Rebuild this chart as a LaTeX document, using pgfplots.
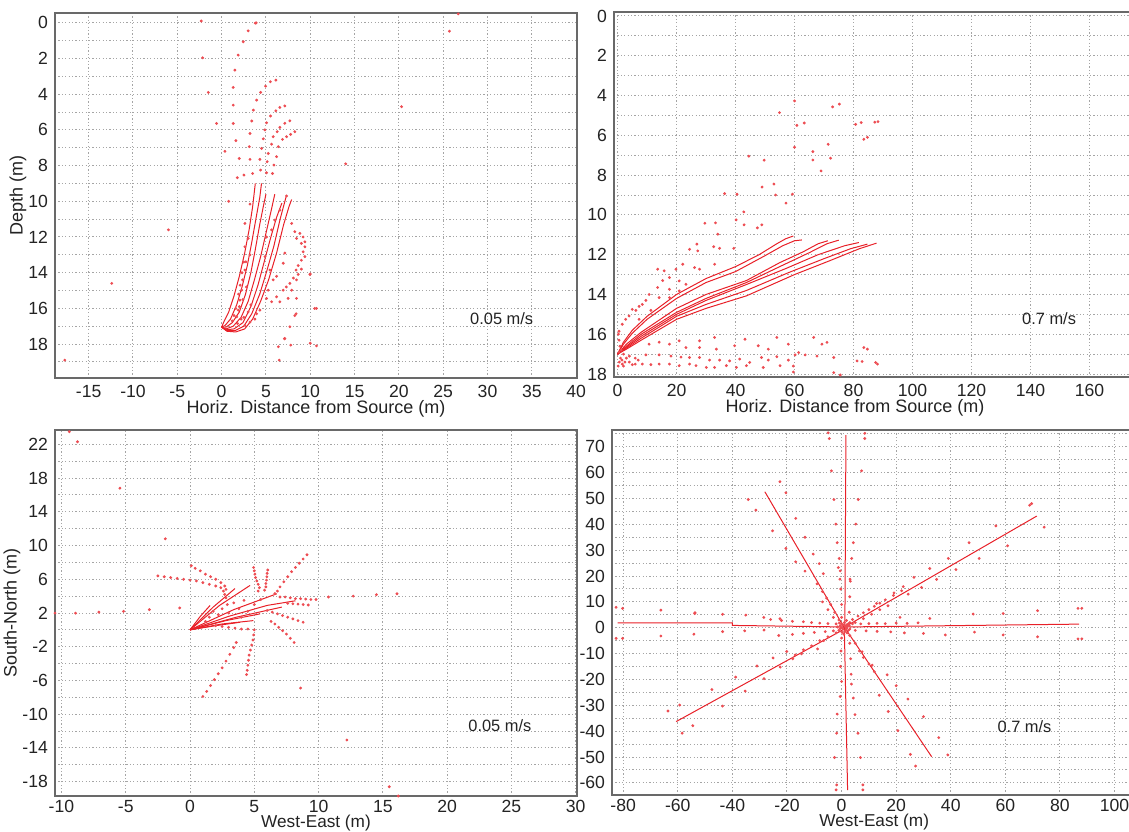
\documentclass[border=0pt]{standalone}
\usepackage{fontspec}
\setmainfont{Liberation Sans}
\usepackage{pgfplots}
\pgfplotsset{compat=1.18}
\definecolor{clrRed}{RGB}{232,32,40}
\definecolor{clrFrame}{RGB}{105,105,105}
\definecolor{clrGrid}{RGB}{165,165,165}
\definecolor{clrText}{RGB}{35,35,35}
\pgfplotsset{
  panel/.style={
    scale only axis, anchor=south west,
    axis line style={draw=clrFrame, line width=1.1pt},
    major tick length=0pt, minor tick length=0pt,
    xmajorgrids, ymajorgrids, yminorgrids,
    major grid style={clrGrid, line width=0.5pt, dash pattern=on 0.6pt off 1.1pt},
    minor grid style={clrGrid, line width=0.5pt, dash pattern=on 0.6pt off 1.1pt},
    ticklabel style={font=\fontsize{8.8}{10}\selectfont, text=clrText},
    label style={font=\fontsize{9}{10}\selectfont, text=clrText},
    /pgf/number format/assume math mode=true,
    ylabel style={inner sep=1pt, yshift=-3.5pt},
  },
  highpanel/.style={xlabel style={inner sep=0.5pt, yshift=2.5pt}},
  % bottom row: the label sits on a fixed baseline just above the page edge
  lowpanel/.style={
    xticklabel style={yshift=1.2pt},
    xlabel style={at={(axis description cs:0.5,0)}, anchor=base, inner sep=0pt,
      yshift=-15.6pt, font=\fontsize{8.6}{10}\selectfont}},
  dots/.style={only marks, color=clrRed!80, mark=*, mark size=0.5pt, mark options={fill=clrRed!80, draw=none}},
  traj/.style={no marks, color=clrRed, line width=0.5pt},
}
\newcommand{\speed}[2]{\node[font=\fontsize{8.2}{9}\selectfont, text=clrText] at (axis cs:#1) {#2};}

\begin{document}
\begin{tikzpicture}
\useasboundingbox (0,0) rectangle (564.5pt,415.5pt);

% ---------- top left: depth vs horizontal distance, 0.05 m/s
\begin{axis}[panel, highpanel, at={(27.5pt,226.5pt)}, width=261pt, height=182.5pt,
  xmin=-18.8, xmax=40.1, ymin=-0.55, ymax=19.9, y dir=reverse,
  xtick={-15,-10,...,40}, ytick={0,2,...,18}, minor ytick={1,3,...,19},
  xlabel={Horiz. Distance from Source (m)}, ylabel={Depth (m)}]
\addplot[traj] coordinates {(0,17.05) (0.3,16.7) (0.8,16.2) (1.4,15.3) (2.0,14.2) (2.6,12.9) (3.1,11.6) (3.5,10.3) (3.8,9.0)};
\addplot[traj] coordinates {(0,17.05) (0.4,16.95) (1.0,16.6) (1.7,15.8) (2.3,14.8) (2.9,13.6) (3.4,12.3) (3.9,10.9) (4.3,9.8) (4.5,9.0)};
\addplot[traj] coordinates {(0,17.05) (0.5,17.05) (1.2,16.8) (2.0,16.2) (2.7,15.2) (3.3,14.0) (3.8,12.7) (4.3,11.3) (4.7,10.3) (5.0,9.6)};
\addplot[traj] coordinates {(0,17.05) (0.5,17.15) (1.3,17.0) (2.2,16.5) (3.0,15.6) (3.7,14.4) (4.4,13.1) (5.0,11.8) (5.6,10.5) (6.0,9.6)};
\addplot[traj] coordinates {(0,17.05) (0.5,17.2) (1.4,17.15) (2.4,16.8) (3.3,15.9) (4.1,14.7) (4.8,13.4) (5.5,12.1) (6.2,10.9) (6.8,10.1)};
\addplot[traj] coordinates {(0,17.05) (0.6,17.25) (1.5,17.25) (2.5,17.0) (3.4,16.3) (4.3,15.2) (5.1,13.9) (5.9,12.5) (6.6,11.0) (7.3,9.7)};
\addplot[traj] coordinates {(0,17.05) (0.6,17.28) (1.6,17.32) (2.6,17.15) (3.5,16.6) (4.4,15.6) (5.3,14.4) (6.2,12.9) (7.0,11.3) (7.6,10.3) (7.9,9.9)};
\addplot[dots] coordinates {
(-2.3,-0.1) (3.9,0.0) (3.8,0.02) (3.0,0.45) (2.44,1.06) (1.87,1.81) (-2.14,1.96) (1.5,2.65)
(6.12,3.21) (5.5,3.3) (4.96,3.55) (-1.5,3.9) (1.31,3.62) (4.4,3.9) (3.95,4.33) (1.31,4.61)
(3.58,4.89) (7.13,4.66) (6.57,4.74) (6.12,4.93) (5.52,5.22) (7.7,5.49) (7.13,5.63) (6.57,5.86)
(6.27,6.1) (8.26,6.1) (7.78,6.25) (7.33,6.38) (6.87,6.53) (5.07,5.6) (3.4,5.5) (1.31,5.64)
(-0.57,5.64) (4.88,6.0) (3.2,6.2) (1.61,6.6) (4.7,6.5) (5.82,6.38) (5.64,6.8) (3.12,6.94)
(4.51,7.04) (6.4,6.94) (0.37,7.2) (5.26,7.32) (6.2,7.5) (1.99,7.6) (3.2,7.65) (4.32,7.65)
(5.14,7.78) (5.9,7.97) (4.4,8.25) (5.07,8.4) (5.74,8.44) (3.5,8.44) (2.52,8.53) (1.77,8.68)
(26.7,-0.5) (25.7,0.47) (20.3,4.7) (14.0,7.9) (-6.0,11.6) (-12.4,14.6) (-17.7,18.9)
(10.0,17.95) (10.7,16.0) (10.0,14.07) (7.8,18.06) (6.5,18.9) (7.1,17.7) (8.4,16.3) (0.8,10.0)
(3.2,10.16) (7.33,9.7) (7.9,11.24) (8.26,11.7) (8.83,11.8) (9.2,12.0) (9.4,12.27) (9.0,12.36)
(8.45,12.08) (9.4,12.55) (9.2,12.83) (9.4,13.1) (9.0,13.3) (8.64,13.6) (9.0,13.8) (8.4,13.85)
(8.64,14.1) (8.1,14.3) (8.45,14.4) (7.7,14.6) (7.3,14.8) (6.95,14.98) (7.9,14.98) (6.2,15.35)
(7.5,15.44) (8.45,15.44) (6.57,15.63) (5.64,15.63) (5.07,15.44) (8.26,16.4) (7.7,17.03)
(7.13,17.68) (6.4,18.15) (10.5,16.0) (10.7,18.1) (9.96,14.1) (2.63,11.24) (2.63,12.55)
(2.74,13.39) (2.63,13.85) (2.37,14.4) (2.26,14.98) (2.07,15.54) (1.88,16.1) (1.7,16.47)
(3.0,12.08) (3.2,13.0) (4.9,13.1) (5.45,13.85) (5.82,14.4) (5.26,14.98) (4.32,16.1) (3.75,16.6)
(3.2,16.77) (2.63,16.95) (3.94,16.3) (5.07,12.0) (5.64,11.6) (7.13,12.9) (6.95,13.47) (6.2,14.2)
(6.57,10.5) (6.0,11.05) (1.9,15.2) (2.1,14.7) (2.3,14.0) (2.5,13.4) (1.6,16.0) (1.4,16.4)
(1.2,16.7) (2.0,15.9) (2.4,15.5) (2.8,14.8) (3.3,15.8) (3.0,16.2) (2.2,16.6) (1.8,16.85) (2.5,16.5)};
\speed{31.6,16.56}{0.05 m/s}
\end{axis}

% ---------- top right: depth vs horizontal distance, 0.7 m/s
\begin{axis}[panel, highpanel, at={(307pt,227pt)}, width=264.3pt, height=182.5pt,
  xmin=-1.2, xmax=178, ymin=-0.2, ymax=18.15, y dir=reverse,
  xtick={0,20,...,160}, ytick={0,2,...,18}, minor ytick={1,3,...,17},
  xlabel={Horiz. Distance from Source (m)}, xlabel style={at={(ticklabel cs:0.456)}}]
\addplot[traj] coordinates {(0,17.0) (2,16.4) (5,15.8) (10,15.1) (20,14.0) (30,13.2) (40,12.6) (48,12.0) (54,11.45) (57,11.2) (59.6,11.06)};
\addplot[traj] coordinates {(0,17.0) (2,16.5) (5,15.95) (10,15.25) (20,14.2) (30,13.4) (40,12.85) (50,12.05) (56,11.55) (60,11.3) (62.5,11.26)};
\addplot[traj] coordinates {(0,17.0) (3,16.5) (8,15.9) (20,14.7) (30,14.0) (43.7,13.3) (55,12.4) (63,11.85) (68,11.45) (71.3,11.3)};
\addplot[traj] coordinates {(0,17.0) (3,16.6) (8,16.0) (20,14.9) (30,14.2) (43.7,13.4) (55,12.6) (65,11.9) (71,11.45) (75,11.27)};
\addplot[traj] coordinates {(0,17.0) (3,16.65) (8,16.1) (20,15.0) (30,14.3) (43.7,13.5) (57,12.7) (68,12.0) (77,11.55) (81.8,11.39)};
\addplot[traj] coordinates {(0,17.0) (3,16.7) (8,16.2) (20,15.1) (30,14.5) (43.7,13.8) (58,12.9) (70,12.2) (79,11.7) (84.7,11.47)};
\addplot[traj] coordinates {(0,17.0) (3,16.75) (8,16.3) (20,15.25) (30,14.7) (43.7,14.07) (60,13.0) (72,12.3) (82,11.7) (87.8,11.42)};
\addplot[dots] coordinates {
(60.0,4.27) (54.9,4.86) (72.9,4.57) (75.2,4.43) (60.8,5.5) (63.3,5.38) (80.7,5.45) (82.6,5.36)
(87.2,5.34) (88.3,5.31) (83.5,6.2) (84.7,6.1) (60.0,6.6) (71.4,6.45) (66.2,6.82) (66.2,7.24)
(72.2,7.15) (69.0,7.79) (44.5,7.05) (49.7,7.25) (49.0,8.6) (53.0,8.45) (53.6,9.0) (59.3,8.96)
(57.1,9.41) (36.3,8.93) (40.5,8.96) (42.8,9.85) (40.2,10.25) (42.9,10.5) (29.6,10.42) (33.2,10.4)
(34.0,10.97) (47.4,10.65) (48.9,10.5)
(0.5,15.85) (1.6,15.5) (3.9,15.08) (6.2,14.8) (8.4,14.5) (10.7,14.0) (13.6,13.65) (15.3,13.3)
(17.6,13.15) (19.8,12.73) (22.1,12.48) (24.4,11.73) (26.9,11.47) (27.2,11.81) (34.6,11.68)
(32.6,11.6) (39.4,11.68) (13.6,12.73) (15.8,12.81) (14.1,14.16) (17.6,13.74) (17.6,14.16)
(20.9,13.32) (20.9,13.82) (23.2,13.49) (26.1,12.65) (27.8,12.73) (32.9,12.48) (2.75,15.25)
(5.0,14.75) (7.3,14.6) (9.6,14.3) (11.3,14.8) (7.3,15.25)
(5.0,16.3) (10.7,16.5) (14.1,16.4) (17.6,16.5) (20.9,16.33) (23.2,16.67) (27.8,16.33) (32.9,16.16)
(27.8,16.67) (33.5,16.75) (39.7,16.58) (43.2,16.25) (47.7,16.58) (51.1,16.75) (54.0,16.16)
(57.9,16.5) (66.5,16.16) (69.3,16.5) (71.0,16.41) (61.4,16.92) (83.5,16.67) (84.7,16.75)
(9.6,17.04) (14.1,17.04) (18.1,17.1) (21.5,17.15) (24.4,17.17) (27.8,17.17) (31.2,17.3) (34.6,17.3)
(38.0,17.34) (41.4,17.25) (44.8,17.42) (48.8,17.17) (51.1,17.3) (54.0,17.13) (57.9,17.3) (60.2,17.04)
(63.6,17.04) (67.6,17.1) (73.3,17.17) (81.2,17.34) (82.9,17.37) (87.5,17.42) (88.1,17.5)
(1.6,17.5) (5.0,17.53) (8.4,17.5) (11.3,17.53) (14.1,17.5) (17.6,17.5) (20.9,17.58) (24.4,17.5)
(26.6,17.58) (30.1,17.67) (32.9,17.67) (36.9,17.58) (40.3,17.67) (43.7,17.58) (49.4,17.67)
(55.1,17.58) (59.6,17.9) (59.6,17.6) (73.3,17.93) (75.5,18.05)
(0.3,16.0) (0.5,16.3) (0.8,16.6) (0.5,16.9) (1.0,17.2) (0.6,17.4) (1.5,17.3) (2.0,17.0) (2.5,17.4)
(1.2,16.8) (3.0,17.2) (0.2,17.6) (2.0,17.6) (4.0,17.4) (4.0,17.1) (6.0,17.2) (6.0,17.5) (7.0,17.3)};
\speed{146.3,15.24}{0.7 m/s}
\end{axis}

% ---------- bottom left: plan view, 0.05 m/s
\begin{axis}[panel, lowpanel, at={(27.5pt,17.5pt)}, width=261pt, height=183pt,
  xmin=-10.5, xmax=30.1, ymin=-19.7, ymax=23.7,
  xtick={-10,-5,...,30}, ytick={-18,-14,...,22}, minor ytick={-16,-12,...,20},
  xlabel={West-East (m)}, ylabel={South-North (m)}]
\addplot[traj] coordinates {(0,0) (0.8,1.6) (1.56,2.89)};
\addplot[traj] coordinates {(0,0) (1.8,2.7) (3.5,4.9)};
\addplot[traj] coordinates {(0,0) (2.3,2.9) (4.67,5.27)};
\addplot[traj] coordinates {(0,0) (3.4,2.4) (6.75,4.28)};
\addplot[traj] coordinates {(0,0) (3,1.6) (6,2.9) (8.2,3.45)};
\addplot[traj] coordinates {(0,0) (3.6,1.5) (7.14,2.7)};
\addplot[traj] coordinates {(0,0) (2.8,1.1) (5.45,1.9)};
\addplot[traj] coordinates {(0,0) (2.5,0.7) (4.93,1.1)};
\addplot[traj] coordinates {(0,0) (2.0,0.5) (3.89,0.9)};
\addplot[dots] coordinates {
(-2.5,6.4) (-2.0,6.3) (-1.5,6.2) (-1.0,6.1) (-0.5,6.0) (0.0,5.9) (0.5,5.8) (1.0,5.6) (1.5,5.4)
(2.0,5.2) (2.4,5.0) (2.6,4.6) (2.7,4.2) (2.8,3.8)
(0.1,7.6) (0.4,7.3) (0.8,7.0) (1.2,6.6) (1.6,6.3) (2.0,6.0) (2.4,5.6) (2.7,5.2) (2.8,4.8)
(4.95,7.4) (5.0,7.0) (5.05,6.6) (5.1,6.2) (5.2,5.8) (5.3,5.4) (5.4,5.0) (5.3,4.6)
(6.05,7.1) (6.0,6.7) (5.98,6.3) (5.95,5.9) (5.9,5.5) (5.9,5.1) (5.8,4.7)
(9.1,8.9) (8.8,8.4) (8.5,7.9) (8.2,7.4) (7.9,6.9) (7.6,6.3) (7.3,5.7) (7.0,5.1) (6.8,4.6) (6.6,4.3)
(9.8,3.6) (9.4,3.6) (9.0,3.65) (8.6,3.7) (8.2,3.7) (7.8,3.8) (7.4,3.9) (7.0,3.9)
(9.2,2.95) (8.8,3.0) (8.4,3.05) (8.0,3.1) (7.6,3.15)
(8.8,0.9) (8.4,1.1) (8.0,1.3) (7.6,1.5) (7.2,1.7) (6.8,1.9) (6.4,2.1) (6.0,2.3)
(8.1,-1.5) (7.8,-1.0) (7.5,-0.5) (7.2,-0.1) (6.9,0.3) (6.6,0.7) (6.3,1.0)
(4.4,-5.3) (4.45,-4.8) (4.5,-4.2) (4.55,-3.6) (4.6,-3.0) (4.7,-2.4) (4.8,-1.8) (4.9,-1.2) (4.95,-0.6) (5.0,0.0)
(1.0,-7.9) (1.3,-7.3) (1.6,-6.6) (1.9,-5.9) (2.2,-5.2) (2.5,-4.5) (2.8,-3.7) (3.1,-2.9) (3.4,-2.1) (3.6,-1.5)
(2.0,0.5) (2.5,0.4) (3.0,0.3) (3.5,0.2) (4.0,0.1) (4.5,0.1)
(1.2,1.0) (1.5,1.5) (1.8,2.2) (2.2,1.8) (2.5,2.5) (3.0,2.0) (2.9,3.0) (3.4,3.2) (3.8,2.5)
(4.2,3.5) (4.5,2.2) (5.0,3.0) (5.5,3.6) (4.0,1.5)
(-9.39,23.5) (-8.75,22.3) (-5.45,16.8) (-1.92,10.8) (-10.5,1.98) (-8.9,1.98) (-7.09,2.1)
(-5.17,2.2) (-3.16,2.4) (-0.8,2.6) (10.77,3.9) (12.7,4.0) (14.5,4.17) (16.1,4.28) (8.6,-6.9)
(12.2,-13.06) (15.5,-18.6) (16.2,-19.7)};
\speed{24.1,-11.4}{0.05 m/s}
\end{axis}

% ---------- bottom right: plan view, 0.7 m/s
\begin{axis}[panel, lowpanel, at={(306pt,18pt)}, width=262.2pt, height=182.5pt,
  xmin=-84.1, xmax=108, ymin=-64.7, ymax=76.5,
  xtick={-80,-60,...,100}, ytick={-60,-50,...,70}, minor ytick={-55,-45,...,75},
  xlabel={West-East (m)}]
\addplot[traj] coordinates {(1.5,0.3) (-40,0.9) (-40,1.9) (-82,1.9)};
\addplot[traj] coordinates {(1.5,0.3) (40,0.8) (87,1.4)};
\addplot[traj] coordinates {(1.2,0) (1.6,74.5)};
\addplot[traj] coordinates {(1.0,0) (2.2,-62.8)};
\addplot[traj] coordinates {(1.0,0) (-28.1,52.6)};
\addplot[traj] coordinates {(1.5,0.5) (71.5,43.2)};
\addplot[traj] coordinates {(1.0,-0.5) (-60.6,-36.3)};
\addplot[traj] coordinates {(1.5,-0.5) (33.0,-49.9)};
\addplot[dots] coordinates {
(-4.9,75.4) (-4.5,73.2) (8.5,75.2) (8.5,73.2) (-3.7,60.7) (7.3,60.7) (-22.6,56.5) (-20.4,52.2)
(-34.2,49.6) (-31.4,45.5) (-2.8,49.6) (6.1,49.6) (-16.8,42.3) (-25.3,37.5) (-2.1,40.1) (5.2,40.1)
(-13.4,35.0) (-20.4,30.7) (-1.6,32.9) (4.3,32.9) (-10.4,28.5) (-16.8,25.5) (-0.85,26.8) (3.7,26.8)
(-13.4,21.9) (-8.2,24.8) (-6.7,20.9) (-1.2,23.3) (-0.6,18.8) (3.1,18.8) (46.7,32.9) (50.4,26.8)
(39.1,26.8) (41.9,22.5) (32.3,22.9) (34.8,18.7) (26.5,19.5) (29.3,15.6) (22.6,15.9) (24.4,13.0)
(19.2,13.5) (12.8,9.4) (-53.7,5.8) (-43.6,5.2) (-35.1,4.9) (-28.5,4.0) (-22.6,3.5) (48.2,5.3)
(32.3,3.6) (21.4,4.0)
(-82.6,7.9) (-80.2,7.5) (-66.2,6.8) (-53.8,5.5) (-82.6,-4.1) (-80.2,-4.1) (-66.2,-3.2)
(-54.1,-2.5) (-43.6,-1.5) (-35.5,-1.2) (-28.4,-0.9) (59.2,5.5) (59.2,-2.8) (71.8,6.6) (71.8,-3.5)
(86.6,7.5) (88.0,7.5) (86.6,-4.3) (88.0,-4.3) (48.7,-1.7) (68.9,47.4) (69.6,48.0) (74.2,38.9)
(56.5,39.4) (60.8,31.7)
(-63.6,-32.2) (-59.3,-29.9) (-58.4,-40.8) (-54.5,-37.9) (-43.6,-30.3) (-47.5,-23.9) (-35.3,-24.5)
(-38.8,-19.1) (-31.0,-14.8) (-28.4,-19.7) (-25.1,-11.7) (-22.5,-15.2) (-20.1,-9.2) (-17.9,-12.0)
(-14.7,-10.1) (-8.8,-8.2) (-6.6,-5.0)
(30.0,-34.4) (27.1,-53.5) (25.2,-49.0) (38.9,-49.2) (35.6,-42.5) (20.6,-39.8) (17.1,-32.4)
(24.3,-27.6) (16.7,-18.2) (20.0,-22.4) (13.8,-26.1) (11.2,-14.5) (7.5,-9.3)
(-1.8,-60.8) (-2.0,-62.7) (7.8,-60.8) (7.8,-62.7) (-2.6,-50.2) (6.9,-50.2) (-1.8,-40.8) (6.0,-40.8)
(-1.6,-33.4) (4.9,-33.6) (-0.5,-26.6) (4.3,-27.2) (0,-20.8) (3.6,-21.8)
(4,3.2) (6,4.5) (8,5.8) (10,7) (12,8.3) (14,9.5) (16,10.8) (19,12.5) (22,14.3)
(5,2) (8,3.5) (11,5.2) (14,7) (17,8.5)
(4,1.5) (7,1.5) (10,1.6) (13,1.7) (16,1.6) (20,1.8) (24,1.7) (28,1.9)
(5,-1) (9,-1.2) (13,-1.4) (18,-1.6) (23,-2.0) (30,-2.2) (38,-2.8)
(-2,1.5) (-5,1.6) (-8,1.8) (-11,2.0) (-14,2.3) (-18,2.5) (-22,2.8) (-26,3.2)
(-3,-1.2) (-6,-1.5) (-10,-1.8) (-14,-2.2) (-18,-2.6) (-23,-3.0)
(0,4) (2.8,6) (0,9) (3,12) (-0.3,15) (3.2,18) (-0.5,22)
(0,-4) (3,-6) (-0.2,-9) (3.3,-12) (-0.4,-15) (3.5,-18)
(-1,3) (-2.5,6) (-4,9) (-5.5,11.5) (-7,14) (-9,17) (-3,4) (-5,7) (-7,10)
(3,-3) (5,-6) (6.5,-9) (8,-11.5) (10,-14) (12,-17)
(-2,-2) (-5,-3.5) (-8,-5) (-11,-7) (-14,-8.5) (-17,-10.5)
(0,0) (1,1) (2,0.5) (1.5,-1) (0.5,-0.5) (2.5,1.5) (-0.5,0.8) (3,-0.5) (1,2) (2,-2) (-1,-1)
(0,1.5) (3,2) (-1.5,0.3) (1.8,2.8) (0.8,-2.5) (0.5,1) (1.5,0.5) (2,1.2) (-0.5,-0.3) (1.2,-1.5)
(2.5,-1) (0.2,-1.8) (-0.8,1.8) (2.8,0.8) (1.8,-0.3)};
\speed{67.0,-38.3}{0.7 m/s}
\end{axis}
\end{tikzpicture}
\end{document}
